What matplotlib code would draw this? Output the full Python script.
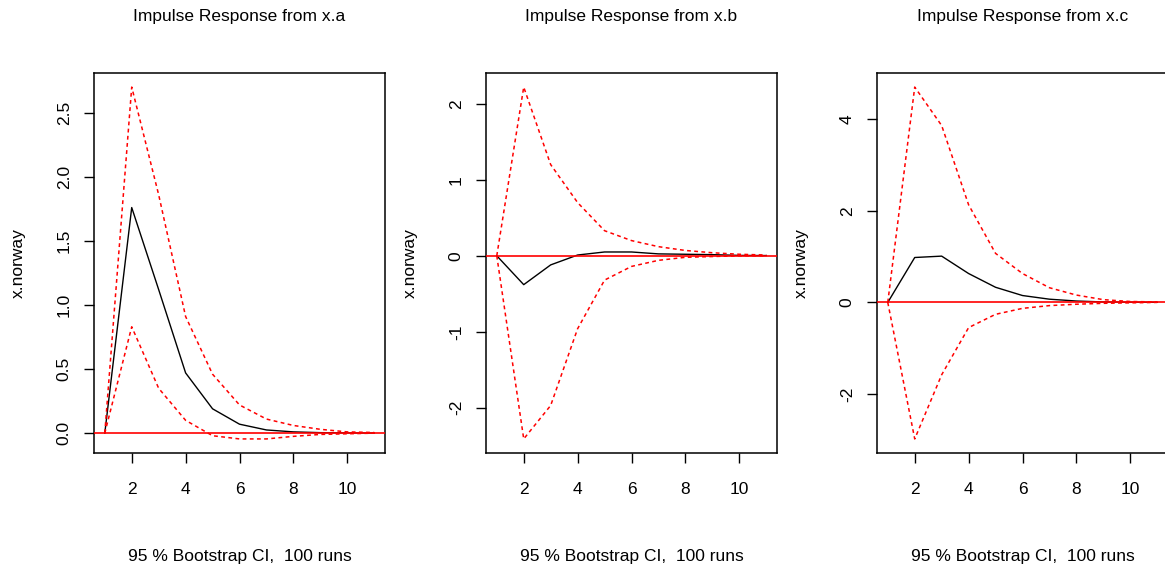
import matplotlib
matplotlib.use("Agg")
import matplotlib.pyplot as plt

plt.rcParams['font.family'] = ['Liberation Sans', 'DejaVu Sans']

steps = [1, 2, 3, 4, 5, 6, 7, 8, 9, 10, 11]

# impulse from x.a
irf_a = [0, 1.76, 1.12, 0.47, 0.19, 0.07, 0.025, 0.01, 0.004, 0.002, 0.001]
upper_a = [0, 2.70, 1.86, 0.91, 0.46, 0.22, 0.11, 0.06, 0.03, 0.01, 0.005]
lower_a = [0, 0.83, 0.35, 0.10, -0.02, -0.045, -0.045, -0.025, -0.01, -0.005, 0]

# impulse from x.b
irf_b = [0, -0.38, -0.12, 0.01, 0.05, 0.05, 0.025, 0.02, 0.015, 0.005, 0.003]
upper_b = [0, 2.22, 1.20, 0.70, 0.33, 0.20, 0.12, 0.07, 0.04, 0.02, 0.01]
lower_b = [0, -2.41, -1.97, -0.96, -0.32, -0.14, -0.06, -0.02, -0.01, 0, 0]

# impulse from x.c
irf_c = [0, 0.98, 1.01, 0.63, 0.33, 0.15, 0.07, 0.03, 0.01, 0.005, 0.002]
upper_c = [0, 4.70, 3.86, 2.13, 1.07, 0.63, 0.32, 0.16, 0.06, 0.02, 0.01]
lower_c = [0, -2.98, -1.58, -0.55, -0.26, -0.13, -0.07, -0.04, -0.02, -0.01, 0]

titles = ['Impulse Response from x.a', 'Impulse Response from x.b',
          'Impulse Response from x.c']
xticks = [2, 4, 6, 8, 10]
yticks = [[0.0, 0.5, 1.0, 1.5, 2.0, 2.5], [-2, -1, 0, 1, 2], [-2, 0, 2, 4]]
ytick_labels = [['0.0', '0.5', '1.0', '1.5', '2.0', '2.5'],
                ['-2', '-1', '0', '1', '2'], ['-2', '0', '2', '4']]
ylabel = 'x.norway'
footer = '95 % Bootstrap CI,  100 runs'

W, H = 1165, 572
fig = plt.figure(figsize=(W / 100, H / 100), dpi=100)

lefts = [94, 486, 877]
box_w, top, bot = 291, 73, 453
fs = 12.5

panels = [(irf_a, upper_a, lower_a), (irf_b, upper_b, lower_b), (irf_c, upper_c, lower_c)]

for i, (irf, up, lo) in enumerate(panels):
    ax = fig.add_axes([lefts[i] / W, 1 - bot / H, box_w / W, (bot - top) / H])
    ax.plot(steps, irf, color='black', lw=1.0)
    ax.plot(steps, up, color='red', lw=1.1, dashes=(2.5, 2.2))
    ax.plot(steps, lo, color='red', lw=1.1, dashes=(2.5, 2.2))
    ax.margins(x=0.04, y=0.04)
    ax.axhline(0, color='red', lw=1.2, zorder=5)

    ax.set_xticks(xticks)
    ax.set_yticks(yticks[i])
    ax.set_yticklabels(ytick_labels[i], rotation=90, va='center')
    ax.tick_params(length=7, width=1, labelsize=fs, direction='out')
    ax.tick_params(axis='x', pad=14)
    ax.tick_params(axis='y', pad=9)
    for s in ax.spines.values():
        s.set_linewidth(1.1)

    cx = (lefts[i] + box_w / 2) / W
    fig.text(cx, 1 - 17 / H, titles[i], ha='center', va='center', fontsize=fs)
    fig.text(cx, 1 - 557 / H, footer, ha='center', va='center', fontsize=fs)
    fig.text((lefts[i] - 76) / W, 1 - 263 / H, ylabel, rotation=90,
             ha='center', va='center', fontsize=fs)

fig.savefig('out.png', dpi=100)
